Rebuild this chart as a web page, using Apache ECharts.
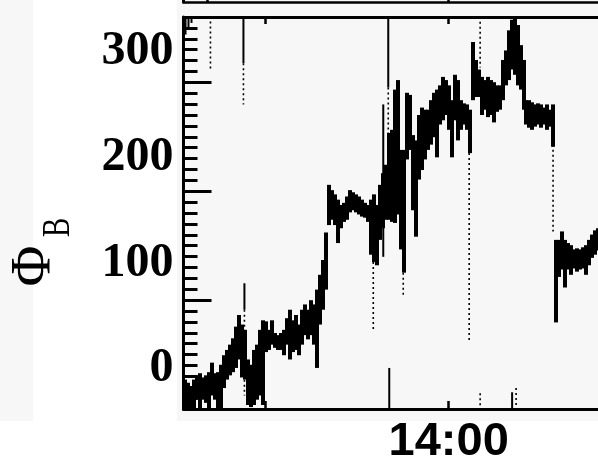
<!DOCTYPE html>
<html><head><meta charset="utf-8">
<script src="https://cdn.jsdelivr.net/npm/echarts@6/dist/echarts.min.js"></script>
<style>html,body{margin:0;padding:0;background:#fff}#c{width:598px;height:463px}</style>
</head><body><div id="c"></div>
<script>
// time in seconds after 13:45:00; samples at a regular cadence
const t0 = 37.5, dt = 9.78;
// Phi_B envelope per sample (upper / lower value)
const phiHigh = [
 -10,-13,-17,-10,-6,-4,-8,-6,-3,6,
 -4,-3,4,13,18,23,29,40,51,42,
 37,9,4,18,23,37,46,45,37,46,
 34,32,34,37,48,56,46,51,42,56,
 61,56,65,61,75,89,103,129,174,169,
 165,160,155,157,163,169,167,165,163,160,
 157,155,160,165,155,174,185,193,223,226,
 264,273,207,207,261,259,221,216,240,247,
 245,245,254,261,264,268,276,273,268,254,
 278,273,254,251,250,245,309,292,283,276,
 273,276,273,271,268,268,292,301,320,330,
 334,325,306,292,254,254,252,250,251,250,
 247,250,245,250,122,122,130,122,119,117,
 113,114,113,115,117,122,127,131,133
];
const phiLow = [
 -38,-38,-38,-38,-29,-38,-29,-32,-38,-25,
 -29,-38,-38,-18,-10,-6,-3,1,9,-8,
 -10,-34,-36,-34,-29,-25,-34,16,18,23,
 20,18,18,13,23,9,16,18,13,23,
 32,28,32,23,1,42,56,75,136,141,
 136,119,133,139,141,148,150,148,146,144,
 143,139,108,101,98,122,133,141,141,139,
 138,146,113,91,198,207,150,125,179,188,
 198,207,212,219,200,231,235,240,226,200,
 235,216,226,231,226,204,254,257,257,240,
 245,238,240,233,243,245,254,268,273,283,
 278,268,264,245,231,228,226,229,231,228,
 231,226,229,210,44,87,94,77,94,89,
 95,92,94,95,89,98,105,108,112
];
// isolated spikes (thin vertical excursions)
const spikeTime   = [40.8,50.5,60.3,122.2,229.9,229.9,233.1,233.1,653.8,686.4,702.7,702.7,706.0,751.6,966.9,966.9,1002.7,1002.7,1107.1,1120.1,1240.8];
const spikeTop    = [333,333,333,333,333,289,81,56,101,250,333,266,1,91,204,119,328,-23,-22,-18,212];
const spikeBottom = [316,322,327,283,289,250,56,-25,37,106,266,223,-38,68,119,25,285,-38,-38,-38,130];
const spikeDotted = [0,0,0,1,0,1,0,1,1,0,0,1,0,1,1,1,1,1,0,1,1];

const yTickLabels = [0, 100, 200, 300];
const xLabelTimes = [900];
const xLabelTexts = ['14:00'];
const xTickTimes = [300, 900];
const upperTickTimes = [112, 900];

const xMin = 34.2, xMax = 1387.5, yMin = -37.8, yMax = 332.6;
const minorStep = (yMax - yMin) / 36;
const minorTicks = [], majorTicks = [];
for (let k = 0; k <= 36; k++) { minorTicks.push(yMin + k * minorStep); if (k % 10 === 0) majorTicks.push(yMin + k * minorStep); }

const bandData = phiHigh.map((h, i) => [t0 + i * dt, phiLow[i], h]);
const spikeData = spikeTime.map((t, i) => [t, spikeBottom[i], spikeTop[i], spikeDotted[i]]);

const chart = echarts.init(document.getElementById('c'), null, {renderer: 'canvas'});
const serif = '"Liberation Serif", "Times New Roman", serif';
const blackLine = w => ({show: true, onZero: false, lineStyle: {color: '#000', width: w}});
chart.setOption({
  animation: false,
  backgroundColor: '#ffffff',
  graphic: {elements: [
    {type: 'rect', z: -10, silent: true, shape: {x: 0, y: 0, width: 33, height: 421}, style: {fill: '#f7f7f7'}},
    {type: 'rect', z: -10, silent: true, shape: {x: 177, y: 0, width: 421, height: 421}, style: {fill: '#f7f7f7'}},
    {type: 'text', x: 35, y: 266, rotation: Math.PI / 2, silent: true,
      style: {text: '\u03A6', font: '56px ' + serif, fill: '#000', align: 'center', verticalAlign: 'middle'}},
    {type: 'text', x: 58, y: 227.5, rotation: Math.PI / 2, scaleX: 0.72, silent: true,
      style: {text: 'B', font: '40px ' + serif, fill: '#000', align: 'center', verticalAlign: 'middle'}}
  ]},
  grid: [
    {left: 183.5, right: 0, top: 17, bottom: 54, outerBoundsMode: 'none', containLabel: false},
    {left: 183.5, right: 0, top: -40, height: 42, outerBoundsMode: 'none', containLabel: false}
  ],
  xAxis: [
    {type: 'value', gridIndex: 0, min: xMin, max: xMax, position: 'bottom',
      axisLine: blackLine(3),
      axisTick: {show: true, inside: true, length: 8, customValues: xTickTimes, lineStyle: {color: '#000', width: 2.5}},
      axisLabel: {show: true, customValues: xLabelTimes, margin: 10,
        formatter: v => xLabelTexts[xLabelTimes.indexOf(v)] || '',
        fontFamily: '"Liberation Sans", Arial, sans-serif', fontWeight: 'bold', fontSize: 47, color: '#000'},
      splitLine: {show: false}},
    {type: 'value', gridIndex: 0, min: xMin, max: xMax, position: 'top',
      axisLine: blackLine(3),
      axisTick: {show: true, inside: true, length: 7, customValues: xTickTimes, lineStyle: {color: '#000', width: 2.5}},
      axisLabel: {show: false}, splitLine: {show: false}},
    {type: 'value', gridIndex: 1, min: xMin, max: xMax, position: 'bottom',
      axisLine: blackLine(2.5),
      axisTick: {show: true, inside: true, length: 6, customValues: upperTickTimes, lineStyle: {color: '#000', width: 2.5}},
      axisLabel: {show: false}, splitLine: {show: false}}
  ],
  yAxis: [
    {type: 'value', gridIndex: 0, min: yMin, max: yMax, position: 'left',
      axisLine: blackLine(3),
      axisTick: {show: true, inside: true, length: 14, customValues: minorTicks, lineStyle: {color: '#000', width: 3}},
      axisLabel: {show: true, customValues: yTickLabels, margin: 10, formatter: v => String(Math.round(v)),
        fontFamily: serif, fontWeight: 'bold', fontSize: 48, color: '#000'},
      splitLine: {show: false}},
    {type: 'value', gridIndex: 0, min: yMin, max: yMax, position: 'left',
      axisLine: {show: false, onZero: false},
      axisTick: {show: true, inside: true, length: 28, customValues: majorTicks, lineStyle: {color: '#000', width: 3}},
      axisLabel: {show: false}, splitLine: {show: false}},
    {type: 'value', gridIndex: 1, min: 0, max: 1, position: 'left',
      axisLine: blackLine(3),
      axisTick: {show: false}, axisLabel: {show: false}, splitLine: {show: false}}
  ],
  series: [
    {type: 'custom', xAxisIndex: 0, yAxisIndex: 0, clip: true, data: bandData,
      encode: {x: 0, y: [1, 2]},
      renderItem: (params, api) => {
        const p1 = api.coord([api.value(0), api.value(2)]);
        const p2 = api.coord([api.value(0), api.value(1)]);
        const w = api.size([dt, 0])[0];
        return {type: 'rect', shape: {x: Math.round(p1[0] - w / 2), y: p1[1], width: Math.ceil(w) + 1, height: Math.max(1.5, p2[1] - p1[1])},
          style: {fill: '#000'}};
      }},
    {type: 'custom', xAxisIndex: 0, yAxisIndex: 0, clip: true, data: spikeData,
      encode: {x: 0, y: [1, 2]},
      renderItem: (params, api) => {
        const p1 = api.coord([api.value(0), api.value(2)]);
        const p2 = api.coord([api.value(0), api.value(1)]);
        const dotted = api.value(3) === 1;
        return {type: 'line', shape: {x1: p1[0], y1: p1[1], x2: p2[0], y2: p2[1]},
          style: {stroke: '#000', lineWidth: dotted ? 1.6 : 2, lineDash: dotted ? [2, 3] : null}};
      }}
  ]
});
</script></body></html>
